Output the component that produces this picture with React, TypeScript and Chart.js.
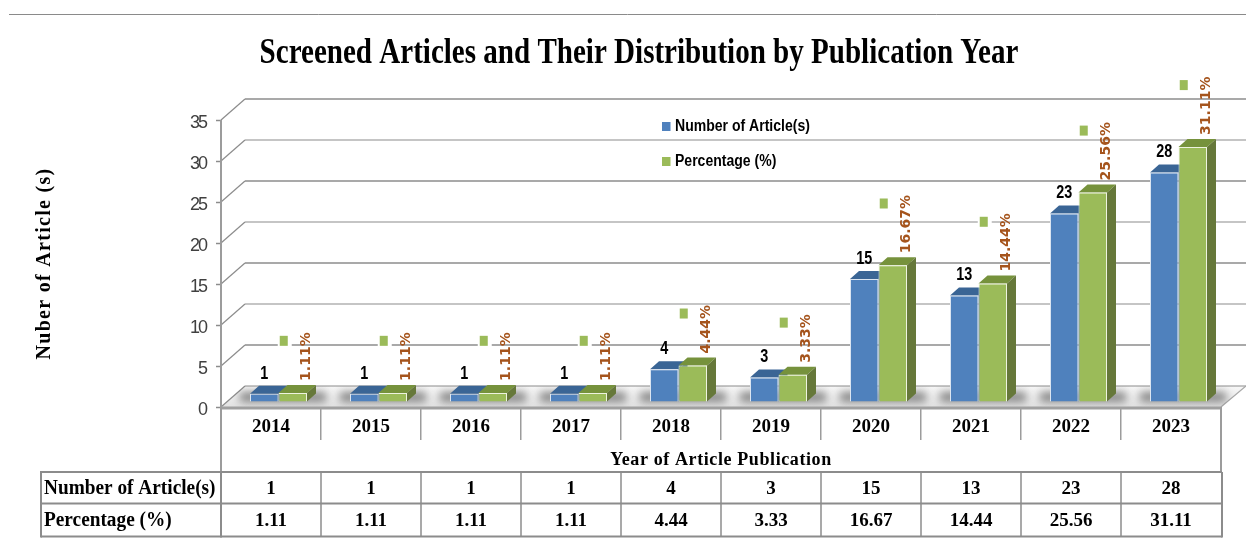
import React, { useEffect, useRef } from "react";
import { Chart, registerables } from "chart.js";

Chart.register(...registerables);

const years = ["2014", "2015", "2016", "2017", "2018", "2019", "2020", "2021", "2022", "2023"];
const articleCounts = [1, 1, 1, 1, 4, 3, 15, 13, 23, 28];
const percentages = [1.11, 1.11, 1.11, 1.11, 4.44, 3.33, 16.67, 14.44, 25.56, 31.11];
const yTicks = [0, 5, 10, 15, 20, 25, 30, 35];
const titleText = "Screened Articles and Their Distribution by Publication Year";
const yTitle = "Nuber of Article (s)";
const xTitle = "Year of Article Publication";
const seriesNames = ["Number of Article(s)", "Percentage (%)"];

const BLUE = "#4f81bd";
const GREEN = "#9bbb59";
const GRID = "#8c8c8c";
const SERIF = '"Liberation Serif", serif';
const SANS = '"Liberation Sans", sans-serif';

// 3D geometry of the plot box
const WALL_DX = 24;
const WALL_DY = -21;
const BAR_DX = 7.5;
const BAR_DY = -5;
const DEPTH_X = 9;
const DEPTH_Y = -8;

function poly(ctx: CanvasRenderingContext2D, pts: number[][], fill: any) {
  ctx.beginPath();
  pts.forEach((p, i) => (i ? ctx.lineTo(p[0], p[1]) : ctx.moveTo(p[0], p[1])));
  ctx.closePath();
  ctx.fillStyle = fill;
  ctx.fill();
}

function line(ctx: CanvasRenderingContext2D, x1: number, y1: number, x2: number, y2: number, color: string, w: number) {
  ctx.strokeStyle = color;
  ctx.lineWidth = w;
  ctx.beginPath();
  ctx.moveTo(x1, y1);
  ctx.lineTo(x2, y2);
  ctx.stroke();
}

// text squeezed horizontally around its anchor
function squeezed(ctx: CanvasRenderingContext2D, text: string, x: number, y: number, sx: number) {
  ctx.save();
  ctx.translate(x, y);
  ctx.scale(sx, 1);
  ctx.fillText(text, 0, 0);
  ctx.restore();
}

function withSpacing(ctx: any, owner: any, method: string, spacing: string) {
  const orig = owner[method];
  owner[method] = function (...args: any[]) {
    ctx.letterSpacing = spacing;
    orig.apply(owner, args);
    ctx.letterSpacing = "0px";
  };
}

const scenePlugin = {
  id: "scene",
  beforeDraw(chart: any) {
    const { ctx, scales } = chart;
    if (chart.$wrapped) return;
    chart.$wrapped = true;
    withSpacing(ctx, scales.y, "drawTitle", "1.3px");
    withSpacing(ctx, scales.x, "drawTitle", "0.6px");
    withSpacing(ctx, scales.y, "drawLabels", "-2px");
    const block = chart.titleBlock;
    const drawBlock = block.draw;
    const centre = (block.left + block.right) / 2;
    block.draw = function () {
      ctx.save();
      ctx.translate(639, 0);
      ctx.scale(0.807, 1);
      ctx.translate(-centre, 0);
      drawBlock.call(block);
      ctx.restore();
    };
  },
  beforeDatasetsDraw(chart: any) {
    const { ctx, chartArea: a, scales } = chart;
    const y = scales.y;
    ctx.save();
    line(ctx, 9, 14.5, chart.width, 14.5, "#8a8a8a", 1);

    // floor
    const y0 = y.getPixelForValue(0);
    const floor = [
      [a.left, y0],
      [a.left + WALL_DX, y0 + WALL_DY],
      [a.right + WALL_DX + 1, y0 + WALL_DY],
      [a.right, y0],
    ];
    const g = ctx.createLinearGradient(0, y0 + WALL_DY, 0, y0);
    g.addColorStop(0, "#f8f8f8");
    g.addColorStop(1, "#e2e2e2");
    poly(ctx, floor, g);

    // walls
    for (const v of yTicks) {
      const py = y.getPixelForValue(v);
      line(ctx, a.left, py, a.left + WALL_DX, py + WALL_DY, GRID, 1.2);
      line(ctx, a.left + WALL_DX, py + WALL_DY, a.right + WALL_DX + 1, py + WALL_DY, GRID, v % 10 === 0 ? 1.2 : 1.6);
    }
    line(ctx, a.right, y0, a.right + WALL_DX + 1, y0 + WALL_DY, "#a8a8a8", 1.2);

    // soft shadows on the floor
    const blue = chart.getDatasetMeta(0).data;
    const green = chart.getDatasetMeta(1).data;
    ctx.save();
    ctx.beginPath();
    floor.forEach((p, i) => (i ? ctx.lineTo(p[0], p[1]) : ctx.moveTo(p[0], p[1])));
    ctx.closePath();
    ctx.clip();
    ctx.filter = "blur(4px)";
    ctx.fillStyle = "rgba(70,70,70,0.62)";
    blue.forEach((b: any, i: number) => {
      const left = b.x - b.width / 2 + BAR_DX;
      const right = green[i].x + green[i].width / 2 + BAR_DX + DEPTH_X;
      ctx.fillRect(left - 10, y0 - 15, right - left + 20, 10);
    });
    ctx.restore();

    // extruded tops and sides, front faces are the library's bars
    const faces = (b: any, top: string, side: string) => {
      const l = b.x - b.width / 2 + BAR_DX;
      const r = b.x + b.width / 2 + BAR_DX;
      const t = b.y + BAR_DY;
      const bt = b.base + BAR_DY;
      poly(ctx, [[l, t], [l + DEPTH_X, t + DEPTH_Y], [r + DEPTH_X, t + DEPTH_Y], [r, t]], top);
      poly(ctx, [[r, t], [r + DEPTH_X, t + DEPTH_Y], [r + DEPTH_X, bt + DEPTH_Y], [r, bt]], side);
    };
    blue.forEach((b: any) => faces(b, "#3a6595", "#2f5580"));
    green.forEach((b: any) => faces(b, "#76923c", "#66783a"));
    ctx.restore();

    // lift the bars onto the floor
    ctx.save();
    ctx.translate(BAR_DX, BAR_DY);
  },
  afterDatasetsDraw(chart: any) {
    const { ctx, chartArea: a, scales } = chart;
    ctx.restore();
    ctx.save();

    const x = scales.x;
    const y = scales.y;
    const y0 = y.getPixelForValue(0);
    const blue = chart.getDatasetMeta(0).data;
    const green = chart.getDatasetMeta(1).data;

    // front edge and axis line
    line(ctx, a.left, y0 + 1, a.right, y0 + 1, "#a0a0a0", 3);
    line(ctx, a.left, 120, a.left, 472, "#9c9c9c", 2);
    line(ctx, a.right, y0, a.right, 472, "#9c9c9c", 2);

    // value labels
    ctx.textBaseline = "middle";
    ctx.textAlign = "center";
    articleCounts.forEach((v, i) => {
      const b = blue[i];
      ctx.font = `bold 18px ${SANS}`;
      ctx.fillStyle = "#000000";
      squeezed(ctx, String(v), b.x + BAR_DX, b.y + BAR_DY - 20, 0.8);
    });
    percentages.forEach((v, i) => {
      const b = green[i];
      const text = v.toFixed(2) + "%";
      const top = b.y + BAR_DY;
      const cx = b.x + BAR_DX;
      ctx.font = `bold 14px "DejaVu Sans", sans-serif`;
      const w = ctx.measureText(text).width;
      // key swatch
      const my = top - w - 3.5;
      ctx.fillStyle = "#ffffff";
      ctx.fillRect(cx - 15, my - 7, 14, 14);
      ctx.fillStyle = GREEN;
      ctx.fillRect(cx - 13, my - 5, 8, 10);
      ctx.save();
      ctx.translate(cx + 14, top - 12);
      ctx.rotate(-Math.PI / 2);
      ctx.textAlign = "left";
      ctx.fillStyle = "#a5541c";
      ctx.fillText(text, 0, 0);
      ctx.restore();
    });

    // legend
    const colors = [BLUE, GREEN];
    const legendY = [126.5, 161.5];
    seriesNames.forEach((name, i) => {
      ctx.fillStyle = colors[i];
      ctx.fillRect(662, legendY[i] - 4.5, 8.5, 9);
      ctx.fillStyle = "#000000";
      ctx.textAlign = "left";
      ctx.font = `bold 16px ${SANS}`;
      squeezed(ctx, name, 675, legendY[i], 0.877);
    });

    // data table
    const tableLeft = 41;
    const rows = [472, 503.5, 536.5];
    rows.forEach((ry) => line(ctx, tableLeft, ry, a.right + 1, ry, "#8c8c8c", 2));
    line(ctx, tableLeft, rows[0] - 1, tableLeft, rows[2] + 1, "#8c8c8c", 2);
    line(ctx, a.left, rows[0], a.left, rows[2] + 1, "#8c8c8c", 2);
    line(ctx, a.right + 1, rows[0], a.right + 1, rows[2] + 1, "#8c8c8c", 2);
    years.forEach((_, i) => {
      const edge = x.getPixelForValue(i) + 50;
      if (i < years.length - 1) line(ctx, edge, rows[0], edge, rows[2], "#8c8c8c", 1.5);
    });
    ctx.fillStyle = "#000000";
    ctx.textAlign = "left";
    ctx.font = `bold 20px ${SERIF}`;
    squeezed(ctx, seriesNames[0], 44, 489, 0.965);
    squeezed(ctx, seriesNames[1], 44, 521, 0.965);
    ctx.textAlign = "center";
    ctx.font = `bold 19px ${SERIF}`;
    years.forEach((_, i) => {
      const cx = x.getPixelForValue(i);
      ctx.fillText(String(articleCounts[i]), cx, 489);
      ctx.fillText(percentages[i].toFixed(2), cx, 521);
    });
    ctx.restore();
  },
};

export default function App() {
  const ref = useRef<HTMLCanvasElement | null>(null);

  useEffect(() => {
    if (!ref.current) return;
    const chart = new Chart(ref.current, {
      type: "bar",
      data: {
        labels: years,
        datasets: [
          { label: seriesNames[0], data: articleCounts, backgroundColor: BLUE, borderColor: "#dbe5f1", borderWidth: 1, clip: false },
          { label: seriesNames[1], data: percentages, backgroundColor: GREEN, borderColor: "#eef3e0", borderWidth: 1, clip: false },
        ],
      },
      plugins: [scenePlugin],
      options: {
        animation: false,
        responsive: false,
        layout: { padding: { left: 32, right: 25, top: 0, bottom: 0 } },
        datasets: { bar: { categoryPercentage: 0.57, barPercentage: 1 } },
        plugins: {
          legend: { display: false },
          tooltip: { enabled: false },
          title: {
            display: true,
            text: titleText,
            color: "#000000",
            font: { family: SERIF, size: 36, weight: "bold" },
            padding: { top: 32, bottom: 44.8 },
          },
        },
        scales: {
          x: {
            afterFit(s: any) {
              s.height = 139;
            },
            border: { display: false },
            grid: { drawOnChartArea: false, tickLength: 33, color: "#9c9c9c", lineWidth: 1.5, tickWidth: 1.5, tickColor: "#9c9c9c" },
            ticks: { color: "#000000", font: { family: SERIF, size: 19, weight: "bold" }, padding: -24, maxRotation: 0 },
            title: {
              display: true,
              text: xTitle,
              color: "#000000",
              font: { family: SERIF, size: 18, weight: "bold" },
              padding: { top: 0, bottom: 75 },
            },
          },
          y: {
            min: 0,
            max: 35,
            afterFit(s: any) {
              s.width = 189;
            },
            border: { display: false },
            grid: { drawOnChartArea: false, tickLength: 5, color: "#8c8c8c", tickColor: "#8c8c8c", tickWidth: 1.5 },
            ticks: { stepSize: 5, color: "#404040", font: { family: SANS, size: 18 }, padding: 10, labelOffset: 3 },
            title: {
              display: true,
              text: yTitle,
              color: "#000000",
              font: { family: SERIF, size: 20, weight: "bold" },
              padding: { top: 1, bottom: 0 },
            },
          },
        },
      },
    } as any);
    return () => chart.destroy();
  }, []);

  return (
    <div style={{ position: "absolute", left: 0, top: 0, width: 1246, height: 546, background: "#ffffff" }}>
      <canvas ref={ref} width={1246} height={546} style={{ display: "block" }} />
    </div>
  );
}
